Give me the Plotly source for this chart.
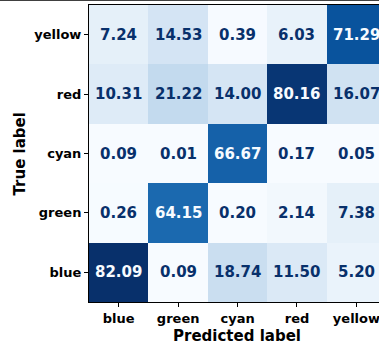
import plotly.graph_objects as go

# Confusion matrix (percent), rows = true label, columns = predicted label
labels = ["blue", "green", "cyan", "red", "yellow"]
true_labels = ["blue", "green", "cyan", "red", "yellow"]
values = [
    [82.09, 0.09, 18.74, 11.50, 5.20],   # blue
    [0.26, 64.15, 0.20, 2.14, 7.38],     # green
    [0.09, 0.01, 66.67, 0.17, 0.05],     # cyan
    [10.31, 21.22, 14.00, 80.16, 16.07], # red
    [7.24, 14.53, 0.39, 6.03, 71.29],    # yellow
]

# Matplotlib "Blues" colormap anchors
blues = ["#f7fbff", "#deebf7", "#c6dbef", "#9ecae1", "#6baed6",
         "#4292c6", "#2171b5", "#08519c", "#08306b"]
colorscale = [[i / (len(blues) - 1), c] for i, c in enumerate(blues)]

flat = [v for row in values for v in row]
vmin, vmax = min(flat), max(flat)
threshold = (vmin + vmax) / 2.0

FONT = "DejaVu Sans"

fig = go.Figure(
    go.Heatmap(
        z=values,
        x=list(range(len(labels))),
        y=list(range(len(true_labels))),
        colorscale=colorscale,
        zmin=vmin,
        zmax=vmax,
        showscale=False,
        xgap=0,
        ygap=0,
        hoverinfo="skip",
    )
)

annotations = []
for i, row in enumerate(values):
    for j, v in enumerate(row):
        annotations.append(
            dict(
                x=j, y=i, xref="x", yref="y",
                text=f"{v:.2f}",
                showarrow=False,
                font=dict(family=FONT, size=15, weight="bold",
                          color=blues[0] if v > threshold else blues[-1]),
            )
        )

# Axis titles
annotations.append(dict(
    x=0.512, y=-0.116, xref="paper", yref="paper",
    text="Predicted label", showarrow=False,
    font=dict(family=FONT, size=15, weight="bold", color="black"),
    xanchor="center", yanchor="middle",
))
annotations.append(dict(
    x=-0.238, y=0.5, xref="paper", yref="paper",
    text="True label", showarrow=False, textangle=-90,
    font=dict(family=FONT, size=15, weight="bold", color="black"),
    xanchor="center", yanchor="middle",
))

tick_font = dict(family=FONT, size=13, weight="bold", color="black")

fig.update_layout(
    width=379,
    height=345,
    margin=dict(l=89, r=0, t=5, b=43),
    paper_bgcolor="white",
    plot_bgcolor="white",
    annotations=annotations,
    xaxis=dict(
        tickmode="array",
        tickvals=list(range(len(labels))),
        ticktext=labels,
        range=[-0.5, 4.38],
        ticks="outside",
        ticklen=4,
        tickwidth=1,
        tickcolor="black",
        tickfont=tick_font,
        ticklabeloverflow="allow",
        showline=True,
        linecolor="black",
        linewidth=1,
        mirror=True,
        showgrid=False,
        zeroline=False,
    ),
    yaxis=dict(
        tickmode="array",
        tickvals=list(range(len(true_labels))),
        ticktext=true_labels,
        range=[-0.5, 4.5],
        ticks="outside",
        ticklen=4,
        tickwidth=1,
        tickcolor="black",
        tickfont=tick_font,
        showline=True,
        linecolor="black",
        linewidth=1,
        mirror=True,
        showgrid=False,
        zeroline=False,
    ),
    shapes=[
        # bottom spine of the panel above
        dict(type="line", xref="paper", yref="paper",
             x0=-0.31, x1=1.0, y0=1.0168, y1=1.0168,
             line=dict(color="black", width=1.5)),
    ],
)

fig.write_html("out.html")
